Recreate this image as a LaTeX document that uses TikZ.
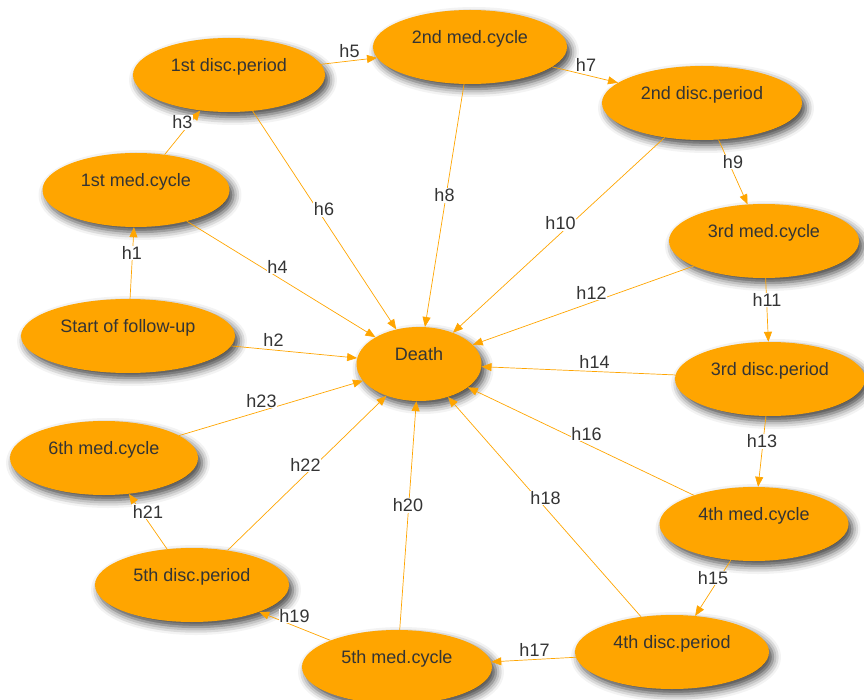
\documentclass[tikz,border=0pt]{standalone}
\usepackage{fontspec}
\setmainfont{Liberation Sans}
\usetikzlibrary{arrows.meta,shapes.geometric,shadows.blur}

\definecolor{visorange}{HTML}{FFA500}
\definecolor{vistext}{HTML}{343434}

\begin{document}
\begin{tikzpicture}[
  x=1pt, y=-1pt,
  state/.style={ellipse, fill=visorange, minimum width=190pt, minimum height=74pt,
    text=vistext, font=\fontsize{18}{20}\selectfont, text height=12pt, text depth=19pt,
    blur shadow={shadow xshift=4pt, shadow yshift=-5pt, shadow blur radius=8pt, shadow opacity=75}},
  arr/.style={-{Triangle[length=10pt,width=8pt]}, draw=visorange, line width=0.7pt},
  lbl/.style={fill=white, inner sep=0.5pt, text=vistext, font=\fontsize{18}{20}\selectfont, yshift=10pt}
]
\useasboundingbox (0,0) rectangle (864,700);

% nodes around the absorbing state
\node[state, minimum width=125pt] (death) at (419,364) {Death};
\node[state, minimum width=214pt] (start) at (128,336) {Start of follow-up};
\node[state, minimum width=187pt] (med1) at (136,190) {1st med.cycle};
\node[state, minimum width=192pt] (disc1) at (229,75) {1st disc.period};
\node[state, minimum width=194pt] (med2) at (470,47) {2nd med.cycle};
\node[state, minimum width=200pt] (disc2) at (702,103) {2nd disc.period};
\node[state] (med3) at (764,241) {3rd med.cycle};
\node[state] (disc3) at (770,379) {3rd disc.period};
\node[state, minimum width=189pt] (med4) at (754,524) {4th med.cycle};
\node[state, minimum width=194pt] (disc4) at (672,652) {4th disc.period};
\node[state] (med5) at (397,667) {5th med.cycle};
\node[state, minimum width=194pt] (disc5) at (192,585) {5th disc.period};
\node[state, minimum width=188pt] (med6) at (104,458) {6th med.cycle};

% transitions
\draw[arr] (start) -- (med1);   \path (start.center) -- node[lbl] {h1} (med1.center);
\draw[arr] (start) -- (death);  \path (start.center) -- node[lbl] {h2} (death.center);
\draw[arr] (med1) -- (disc1);   \path (med1.center) -- node[lbl] {h3} (disc1.center);
\draw[arr] (med1) -- (death);   \path (med1.center) -- node[lbl] {h4} (death.center);
\draw[arr] (disc1) -- (med2);   \path (disc1.center) -- node[lbl] {h5} (med2.center);
\draw[arr] (disc1) -- (death);  \path (disc1.center) -- node[lbl] {h6} (death.center);
\draw[arr] (med2) -- (disc2);   \path (med2.center) -- node[lbl] {h7} (disc2.center);
\draw[arr] (med2) -- (death);   \path (med2.center) -- node[lbl] {h8} (death.center);
\draw[arr] (disc2) -- (med3);   \path (disc2.center) -- node[lbl] {h9} (med3.center);
\draw[arr] (disc2) -- (death);  \path (disc2.center) -- node[lbl] {h10} (death.center);
\draw[arr] (med3) -- (disc3);   \path (med3.center) -- node[lbl] {h11} (disc3.center);
\draw[arr] (med3) -- (death);   \path (med3.center) -- node[lbl] {h12} (death.center);
\draw[arr] (disc3) -- (med4);   \path (disc3.center) -- node[lbl] {h13} (med4.center);
\draw[arr] (disc3) -- (death);  \path (disc3.center) -- node[lbl] {h14} (death.center);
\draw[arr] (med4) -- (disc4);   \path (med4.center) -- node[lbl] {h15} (disc4.center);
\draw[arr] (med4) -- (death);   \path (med4.center) -- node[lbl] {h16} (death.center);
\draw[arr] (disc4) -- (med5);   \path (disc4.center) -- node[lbl] {h17} (med5.center);
\draw[arr] (disc4) -- (death);  \path (disc4.center) -- node[lbl] {h18} (death.center);
\draw[arr] (med5) -- (disc5);   \path (med5.center) -- node[lbl] {h19} (disc5.center);
\draw[arr] (med5) -- (death);   \path (med5.center) -- node[lbl] {h20} (death.center);
\draw[arr] (disc5) -- (med6);   \path (disc5.center) -- node[lbl] {h21} (med6.center);
\draw[arr] (disc5) -- (death);  \path (disc5.center) -- node[lbl] {h22} (death.center);
\draw[arr] (med6) -- (death);   \path (med6.center) -- node[lbl] {h23} (death.center);

\end{tikzpicture}
\end{document}
